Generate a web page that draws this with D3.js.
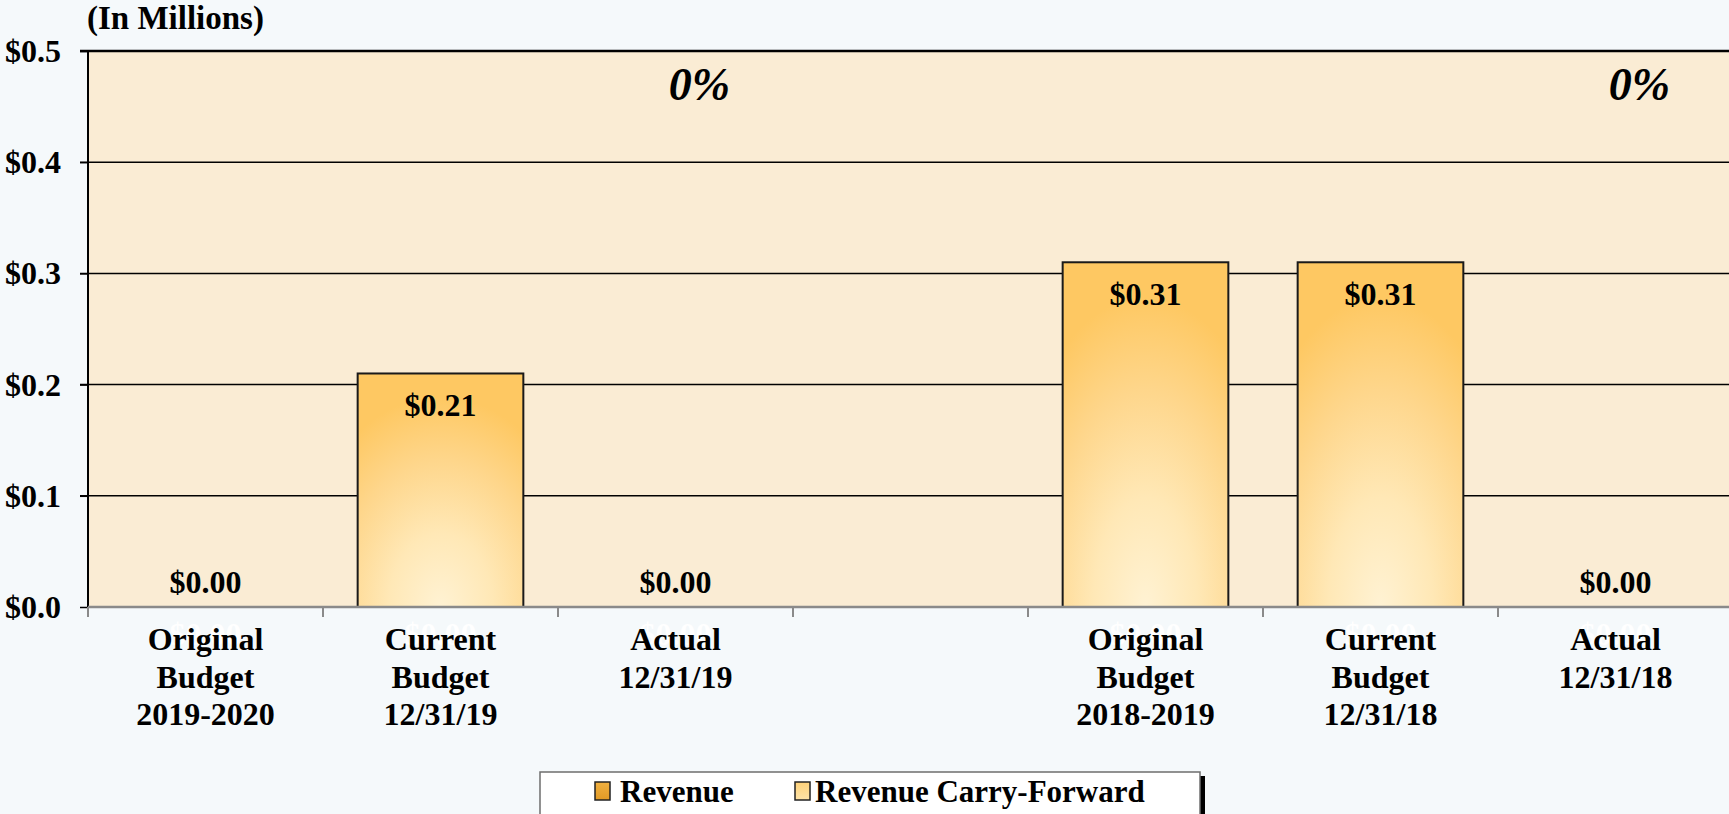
<!DOCTYPE html>
<html>
<head>
<meta charset="utf-8">
<script src="https://cdn.jsdelivr.net/npm/d3@7"></script>
<style>
  html, body { margin: 0; padding: 0; background: #f5f9fb; }
  svg { display: block; }
  text { font-family: "Liberation Serif", "Times New Roman", serif; font-weight: bold; }
</style>
</head>
<body>
<svg id="chart" width="1729" height="814"></svg>
<script>
// ---- data ----
const categories = ["Original Budget 2019-2020", "Current Budget 12/31/19", "Actual 12/31/19", "",
                    "Original Budget 2018-2019", "Current Budget 12/31/18", "Actual 12/31/18"];
const categoryLines = [["Original", "Budget", "2019-2020"], ["Current", "Budget", "12/31/19"], ["Actual", "12/31/19"], [],
                       ["Original", "Budget", "2018-2019"], ["Current", "Budget", "12/31/18"], ["Actual", "12/31/18"]];
const revenue = [0.00, 0.21, 0.00, null, 0.31, 0.31, 0.00];
const carryForward = [0.00, 0.00, 0.00, null, 0.00, 0.00, 0.00];
const percentLabels = [{cat: "Actual 12/31/19", text: "0%"}, {cat: "Actual 12/31/18", text: "0%"}];
const yTicks = [0, 0.1, 0.2, 0.3, 0.4, 0.5];
const yTickLabels = ["$0.0", "$0.1", "$0.2", "$0.3", "$0.4", "$0.5"];
const seriesNames = ["Revenue", "Revenue Carry-Forward"];
const unitLabel = "(In Millions)";

(function () {
// ---- layout ----
const W = 1729, H = 814;
const pLeft = 88, pTop = 51, pBottom = 607, pRight = 1733;
const svg = d3.select("#chart");

const x = d3.scaleBand().domain(categories).range([pLeft, pRight]).paddingInner(0.295).paddingOuter(0.1475);
const y = d3.scaleLinear().domain([0, 0.5]).range([pBottom, pTop]);
const step = x.step();

const defs = svg.append("defs");
const g1 = defs.append("radialGradient").attr("id", "barGrad")
  .attr("cx", 0.5).attr("cy", 1).attr("r", 0.9).attr("fx", 0.5).attr("fy", 1);
[[0, "#fff2d3"], [0.35, "#ffe8b6"], [0.7, "#fed68b"], [1, "#fec862"]].forEach(([o, c]) =>
  g1.append("stop").attr("offset", o).attr("stop-color", c));
const g2 = defs.append("linearGradient").attr("id", "swRev").attr("x1", 0).attr("y1", 0).attr("x2", 0).attr("y2", 1);
[[0, "#f0b040"], [1, "#e19a25"]].forEach(([o, c]) => g2.append("stop").attr("offset", o).attr("stop-color", c));
const g3 = defs.append("linearGradient").attr("id", "swCF").attr("x1", 0).attr("y1", 0).attr("x2", 0).attr("y2", 1);
[[0, "#fed27a"], [1, "#fde3a8"]].forEach(([o, c]) => g3.append("stop").attr("offset", o).attr("stop-color", c));

// plot area background
svg.append("rect").attr("x", pLeft).attr("y", pTop).attr("width", W - pLeft).attr("height", pBottom - pTop)
  .attr("fill", "#faecd4");

// gridlines
svg.append("g").selectAll("line").data(yTicks.filter(d => d > 0)).join("line")
  .attr("x1", pLeft - 8).attr("x2", W)
  .attr("y1", d => y(d)).attr("y2", d => y(d))
  .attr("stroke", "#000").attr("stroke-width", d => d === 0.5 ? 2.5 : 1.5);

// y axis
const yAxis = d3.axisLeft(y).tickValues(yTicks).tickSize(8).tickFormat((d, i) => yTickLabels[i]);
const ya = svg.append("g").attr("transform", `translate(${pLeft},0)`).call(yAxis);
ya.select(".domain").attr("stroke", "#000").attr("stroke-width", 2).attr("d", `M-8,${pTop}H0V${pBottom}`);
ya.selectAll(".tick line").attr("stroke", "#000").attr("stroke-width", 1.5);
ya.selectAll(".tick text").attr("x", -27).attr("dy", "0.33em")
  .style("font-family", '"Liberation Serif", "Times New Roman", serif')
  .style("font-weight", "bold").style("font-size", "32px").attr("fill", "#000");

// bars
svg.append("g").selectAll("rect").data(categories.map((c, i) => ({c, v: revenue[i]})).filter(d => d.v > 0))
  .join("rect")
  .attr("x", d => x(d.c)).attr("width", x.bandwidth())
  .attr("y", d => y(d.v)).attr("height", d => y(0) - y(d.v))
  .attr("fill", "url(#barGrad)").attr("stroke", "#1a1a1a").attr("stroke-width", 2);

// x axis
svg.append("line").attr("x1", pLeft).attr("x2", W).attr("y1", pBottom).attr("y2", pBottom)
  .attr("stroke", "#8a8a8a").attr("stroke-width", 2.5);
const bounds = d3.range(categories.length + 1).map(i => pLeft + i * step);
svg.append("g").selectAll("line").data(bounds).join("line")
  .attr("x1", d => d).attr("x2", d => d).attr("y1", pBottom).attr("y2", pBottom + 10)
  .attr("stroke", "#8a8a8a").attr("stroke-width", 2);

// carry-forward labels (white, below axis)
svg.append("g").selectAll("text").data(categories.map((c, i) => ({c, v: carryForward[i]})).filter(d => d.v !== null))
  .join("text")
  .attr("x", d => x(d.c) + x.bandwidth() / 2).attr("y", 645)
  .attr("text-anchor", "middle").attr("font-size", 32).attr("fill", "#ffffff")
  .text(d => "$" + d.v.toFixed(2));

// revenue value labels
svg.append("g").selectAll("text").data(categories.map((c, i) => ({c, v: revenue[i]})).filter(d => d.v !== null))
  .join("text")
  .attr("x", d => x(d.c) + x.bandwidth() / 2)
  .attr("y", d => d.v > 0 ? y(d.v) + 43 : y(0) - 14)
  .attr("text-anchor", "middle").attr("font-size", 32).attr("fill", "#000")
  .text(d => "$" + d.v.toFixed(2));

// category labels
const cl = svg.append("g").selectAll("text").data(categories.map((c, i) => ({c, lines: categoryLines[i]})).filter(d => d.c))
  .join("text")
  .attr("text-anchor", "middle").attr("font-size", 32).attr("fill", "#000");
cl.each(function(d) {
  const t = d3.select(this);
  d.lines.forEach((ln, j) => t.append("tspan").attr("x", x(d.c) + x.bandwidth() / 2).attr("y", 650 + j * 37.5).text(ln));
});

// percent labels
svg.append("g").selectAll("text").data(percentLabels).join("text")
  .attr("x", d => x(d.cat) + x.bandwidth() / 2 + 24).attr("y", 100)
  .attr("text-anchor", "middle").attr("font-size", 46).attr("font-style", "italic").attr("fill", "#000")
  .text(d => d.text);

// unit label
svg.append("text").attr("x", 87).attr("y", 29).attr("font-size", 33).attr("fill", "#000").text(unitLabel);

// legend
svg.append("rect").attr("x", 545).attr("y", 776).attr("width", 660).attr("height", 60).attr("fill", "#000");
svg.append("rect").attr("x", 540).attr("y", 772).attr("width", 660).attr("height", 60)
  .attr("fill", "#ffffff").attr("stroke", "#6e6e6e").attr("stroke-width", 1.5);
const legendItems = [
  {name: seriesNames[0], sx: 595, tx: 620, fill: "url(#swRev)"},
  {name: seriesNames[1], sx: 795, tx: 815, fill: "url(#swCF)"}
];
legendItems.forEach(it => {
  svg.append("rect").attr("x", it.sx).attr("y", 782).attr("width", 15).attr("height", 18)
    .attr("fill", it.fill).attr("stroke", "#222").attr("stroke-width", 1.5);
  svg.append("text").attr("x", it.tx).attr("y", 802).attr("font-size", 31).attr("fill", "#000").text(it.name);
});
})();
</script>
</body>
</html>
